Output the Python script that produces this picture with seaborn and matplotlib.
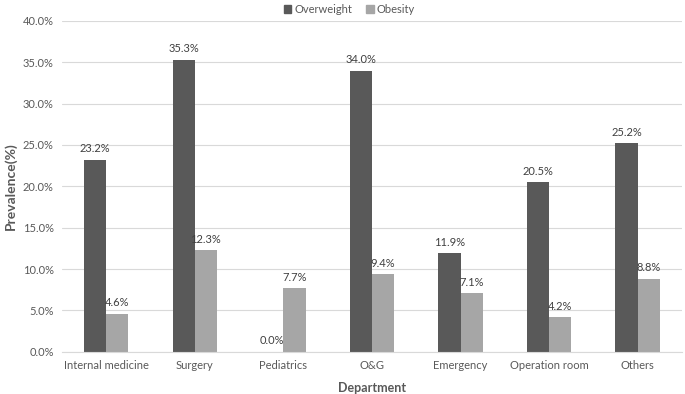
import pandas as pd
import matplotlib.pyplot as plt
import seaborn as sns
from matplotlib.ticker import PercentFormatter
from matplotlib.patches import Patch

departments = ["Internal medicine", "Surgery", "Pediatrics", "O&G",
               "Emergency", "Operation room", "Others"]
overweight = [23.2, 35.3, 0.0, 34.0, 11.9, 20.5, 25.2]
obesity = [4.6, 12.3, 7.7, 9.4, 7.1, 4.2, 8.8]

df = pd.DataFrame({
    "Department": departments * 2,
    "Prevalence": overweight + obesity,
    "Group": ["Overweight"] * len(departments) + ["Obesity"] * len(departments),
})

sns.set_style("white")
plt.rcParams['font.family'] = ['Lato', 'DejaVu Sans']

colors = {"Overweight": "#595959", "Obesity": "#a6a6a6"}

fig = plt.figure(figsize=(6.85, 3.94), dpi=100)
ax = fig.add_axes([0.0905, 0.107, 0.905, 0.84])

sns.barplot(data=df, x="Department", y="Prevalence", hue="Group",
            palette=colors, width=0.5, gap=0, ax=ax, legend=False,
            saturation=1, linewidth=0)

for cont in ax.containers:
    ax.bar_label(cont, fmt="%.1f%%", padding=4, fontsize=8, color="#404040")

ax.set_ylim(0, 40)
ax.set_yticks(range(0, 41, 5))
ax.yaxis.set_major_formatter(PercentFormatter(decimals=1))
ax.grid(axis="y", color="#d9d9d9", linewidth=0.8)
ax.set_axisbelow(True)
for s in ["top", "right", "left"]:
    ax.spines[s].set_visible(False)
ax.spines["bottom"].set_color("#d9d9d9")
ax.tick_params(axis="both", length=0, labelsize=8, colors="#595959", pad=6)
ax.set_xlabel("Department", fontsize=9, fontweight="bold", color="#595959",
              labelpad=8)
ax.set_ylabel("Prevalence(%)", fontsize=10, fontweight="bold", color="#595959")

handles = [Patch(color=colors[k], label=k) for k in ["Overweight", "Obesity"]]
fig.legend(handles=handles, loc="upper center", bbox_to_anchor=(0.51, 1.015),
           ncol=2, frameon=False, fontsize=8, handlelength=0.7,
           handleheight=0.7, handletextpad=0.3, columnspacing=1.2,
           labelcolor="#595959")

fig.savefig("out.png", dpi=100)
